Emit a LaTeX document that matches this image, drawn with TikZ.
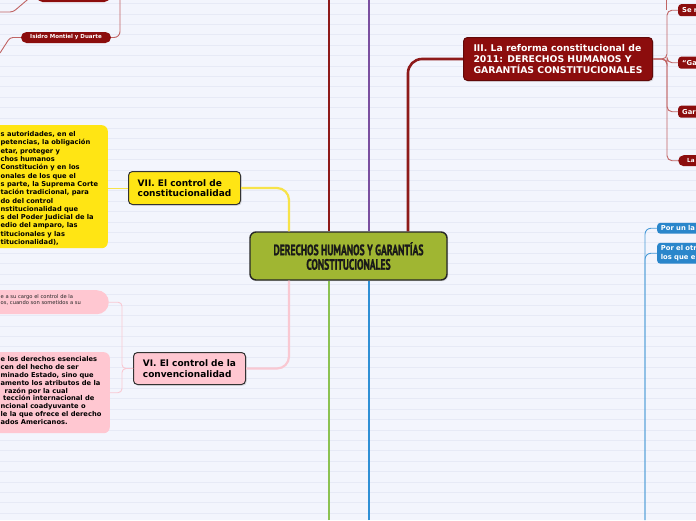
\documentclass[tikz,border=0pt]{standalone}
\usepackage{fontspec}
\newfontfamily\vfont{DejaVu Sans}
\newfontfamily\tfont[FakeStretch=0.64,FakeBold=1.2]{PT Sans}
\usetikzlibrary{shadows}
\definecolor{bg}{HTML}{F3F5FD}
\definecolor{rulec}{HTML}{E7EAF6}
\definecolor{dred}{HTML}{8C0D0D}
\definecolor{redline}{HTML}{8E1A1A}
\definecolor{purp}{HTML}{7A4FA0}
\definecolor{grn}{HTML}{8CC152}
\definecolor{blu}{HTML}{2F8FD5}
\definecolor{bbox}{HTML}{2A86CB}
\definecolor{yel}{HTML}{FFE514}
\definecolor{yline}{HTML}{F7E34A}
\definecolor{pnk}{HTML}{FFC7D1}
\definecolor{pline}{HTML}{F9C8D2}
\definecolor{olive}{HTML}{A0B632}
\definecolor{thinred}{HTML}{C06464}
\definecolor{thinblu}{HTML}{4A9BD8}
\definecolor{edge}{HTML}{333333}
\begin{document}
\begin{tikzpicture}[x=1pt,y=-1pt,
  mainln/.style={line width=2.6pt},
  thinln/.style={line width=0.9pt},
  shad/.style={drop shadow={shadow xshift=1.2pt, shadow yshift=-1.2pt, opacity=0.25}},
  boxed/.style={draw=edge, line width=1pt, rounded corners=4pt, shad, inner sep=0pt},
  lab/.style={font=\vfont\bfseries\fontsize{9}{10.6}\selectfont, align=left},
  labiii/.style={font=\vfont\bfseries\fontsize{9.3}{10.7}\selectfont, align=left},
  ltext/.style={font=\vfont\bfseries\fontsize{6.7}{8.3}\selectfont, align=left, inner sep=0pt, text=black},
  stext/.style={font=\vfont\fontsize{5.2}{6.3}\selectfont, align=left, inner sep=0pt, text=black!85},
  rsq/.style={fill=dred, rounded corners=3pt, minimum height=12pt, text width=32pt, inner xsep=4pt, inner ysep=0pt, align=left, text=white, font=\vfont\bfseries\fontsize{6.8}{8}\selectfont},
  bsq/.style={fill=bbox, rounded corners=3pt, text width=40pt, inner xsep=3.7pt, inner ysep=0pt, align=left, text=white, font=\vfont\bfseries\fontsize{6.8}{9}\selectfont},
  pill/.style={fill=dred, rounded corners=5.5pt, inner sep=0pt, text=white, font=\vfont\bfseries\fontsize{5.5}{6.5}\selectfont}
]
\useasboundingbox (0,0) rectangle (696,520);
\clip (0,0) rectangle (696,520);
\fill[bg] (0,0) rectangle (696,520);
\foreach \k in {0,...,50} \draw[rulec, line width=0.6pt] (0,{3.4+10.4*\k}) -- (696,{3.4+10.4*\k});

% helper coordinates
\coordinate (yx) at (289,0);
\coordinate (rt) at (329,0);
\coordinate (pt) at (369,0);
\coordinate (rx) at (408,0);
\coordinate (gb) at (329,520);
\coordinate (bb) at (369,520);
\coordinate (rbus) at (666,0);
\coordinate (bbus) at (645,520);
\coordinate (lbus) at (120,0);
\coordinate (la) at (10,37.5);
\coordinate (lb) at (0,53);
\coordinate (lc) at (13,12);
\coordinate (ld) at (0,12);

% central node
\node[draw=black!85, line width=1.4pt, rounded corners=6pt, fill=olive, shad,
      minimum width=197pt, minimum height=48pt, inner sep=0pt, align=center,
      font=\tfont\bfseries\fontsize{15}{14.5}\selectfont, text=black!90] (c) at (348.5,256)
      {DERECHOS HUMANOS Y GARANTÍAS\\CONSTITUCIONALES};

% first-level nodes
\node[boxed, fill=yel, minimum width=112pt, minimum height=33pt, anchor=north west, lab] (vii) at (128,171) {VII. El control de\\constitucionalidad};
\node[boxed, fill=pnk, minimum width=112pt, minimum height=32pt, anchor=north west, lab] (vi) at (133,352) {VI. El control de la\\convencionalidad};
\node[boxed, draw=dred!70!black, fill=dred, text=white, minimum width=189pt, minimum height=43pt, anchor=north west, labiii] (iii) at (463,37) {III. La reforma constitucional de\\2011: DERECHOS HUMANOS Y\\GARANTÍAS CONSTITUCIONALES};

% left boxes
\node[fill=yel, rounded corners=6pt, minimum width=130pt, minimum height=123pt, anchor=north east, inner sep=0pt] (yb) at (108,125) {};
\node[fill=pnk, rounded corners=12pt, minimum width=130pt, minimum height=24pt, anchor=north east, inner sep=0pt] (pk1) at (109,290) {};
\node[fill=pnk, rounded corners=6pt, minimum width=130pt, minimum height=81pt, anchor=north east, inner sep=0pt] (pk2) at (110,352) {};

\node[ltext, anchor=north west] (yt) at (0.5,131.4) {s autoridades, en el\\petencias, la obligación\\etar, proteger y\\chos humanos\\Constitución y en los\\onales de los que el\\s parte, la Suprema Corte\\tación tradicional, para\\do del control\\nstitucionalidad que\\s del Poder Judicial de la\\edio del amparo, las\\titucionales y las\\titucionalidad),};
\node[stext, anchor=north west] (pt1) at (0.5,294.2) {e a su cargo el control de la\\os, cuando son sometidos a su};
\node[ltext, anchor=north west, font=\vfont\bfseries\fontsize{6.7}{7.8}\selectfont] (pt2) at (0.5,356.6) {e los derechos esenciales\\cen del hecho de ser\\minado Estado, sino que\\amento los atributos de la\\\hspace*{4pt}razón por la cual\\\hspace*{2.5pt}tección internacional de\\ncional coadyuvante o\\le la que ofrece el derecho\\ados Americanos.};

% right red children
\node[rsq, anchor=north west] (s1) at (678,4) {Se r};
\node[rsq, anchor=north west] (s2) at (678,56.5) {“Ga};
\node[rsq, anchor=north west] (s3) at (678,105.5) {Gar};
\node[pill, anchor=north west, minimum height=11pt, text width=30pt, inner xsep=9pt, align=left, font=\vfont\bfseries\fontsize{5.6}{6.5}\selectfont] (s4) at (678,155) {La};

% right blue children
\node[bsq, anchor=north west, minimum height=10.7pt] (p1) at (657,222.7) {Por un la};
\node[bsq, anchor=north west, minimum height=20.7pt] (p2) at (657,242.7) {Por el otr\\los que e};

% top-left red pills
\node[pill, minimum width=73pt, minimum height=12pt] (ptop) at (73.5,-4) {};
\node[pill, minimum width=90pt, minimum height=11pt] (isidro) at (66,37.5) {Isidro Montiel y Duarte};

% main connectors
\draw[mainln, redline] (rt) -- (rt |- c.north);
\draw[mainln, purp] (pt) -- (pt |- c.north);
\draw[mainln, grn] (gb) -- (gb |- c.south);
\draw[mainln, blu] (bb) -- (bb |- c.south);
\draw[line width=2.2pt, yline, rounded corners=12pt] (yx |- c.north) |- (vii.east);
\draw[line width=2.2pt, pline, rounded corners=12pt] (yx |- c.south) |- (vi.east);
\draw[mainln, redline, rounded corners=14pt] (rx |- c.north) |- (iii.west);

% thin connectors
\draw[thinln, yline] (vii.west) -- (vii.west -| yb.east);
\draw[thinln, pline, rounded corners=4pt] (vi.west) -- ++(-11,0) |- (pk1.east);
\draw[thinln, pline, rounded corners=4pt] (vi.west) -- ++(-11,0) |- (pk2.east);
\draw[thinln, thinred, rounded corners=5pt] (iii.east) -- ++(14,0) |- (s1.west);
\draw[thinln, thinred, rounded corners=5pt] (iii.east) -- ++(14,0) |- (s2.west);
\draw[thinln, thinred, rounded corners=5pt] (iii.east) -- ++(14,0) |- (s3.west);
\draw[thinln, thinred, rounded corners=5pt] (iii.east) -- ++(14,0) |- (s4.west);
\draw[thinln, thinred] (rbus) -- (rbus |- s1.west);
\draw[thinln, thinblu, rounded corners=6pt] (bbus) |- (p1.west);
\draw[thinln, thinblu, rounded corners=6pt] (bbus) |- (p2.west);
\draw[thinln, thinred, rounded corners=6pt] (lbus) |- (isidro.east);
\draw[thinln, thinred, rounded corners=3pt] (isidro.west) -- (la) -- (lb);
\draw[thinln, thinred, rounded corners=3pt] (ptop.west) -- ++(-5,0) -- (lc) -- (ld);
\end{tikzpicture}
\end{document}
